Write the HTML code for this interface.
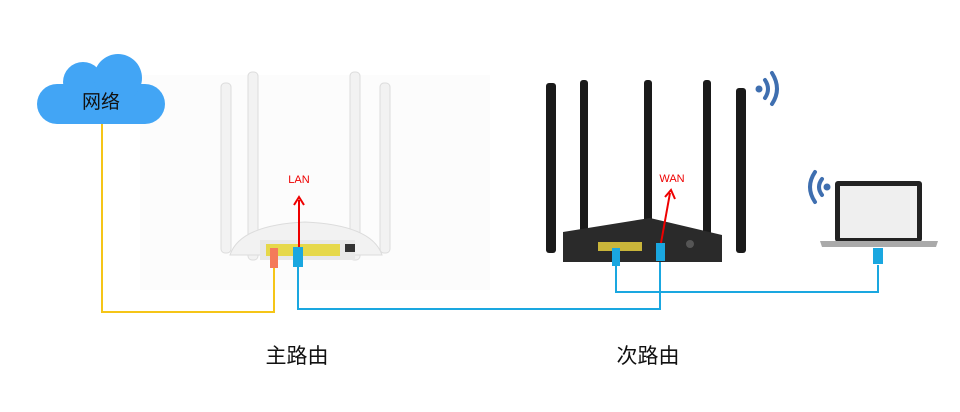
<!DOCTYPE html>
<html><head><meta charset="utf-8"><style>
html,body{margin:0;padding:0;background:#fff;}
svg{display:block;}
text{font-family:"Liberation Sans","Noto Sans CJK SC",sans-serif;}
</style></head><body>
<svg width="960" height="412" viewBox="0 0 960 412" xmlns="http://www.w3.org/2000/svg">
<rect x="140" y="75" width="350" height="215" fill="#fcfcfc"/>
<!-- cloud -->
<g fill="#42a5f5">
<rect x="37" y="84" width="128" height="40" rx="20"/>
<circle cx="83" cy="82" r="20"/>
<circle cx="118" cy="78" r="24"/>
</g>
<text x="101" y="108" font-size="19" text-anchor="middle" fill="#111">网络</text>
<!-- cables -->
<polyline points="102,124 102,312 274,312 274,262" fill="none" stroke="#f5c518" stroke-width="2"/>
<polyline points="298,262 298,309 660,309 660,258" fill="none" stroke="#1aa7e0" stroke-width="2"/>
<polyline points="616,262 616,292 878,292 878,265" fill="none" stroke="#1aa7e0" stroke-width="2"/>
<!-- white router -->
<g fill="#f2f2f2" stroke="#dcdcdc" stroke-width="1">
<rect x="221" y="83" width="10" height="170" rx="4"/>
<rect x="248" y="72" width="10" height="188" rx="4"/>
<rect x="350" y="72" width="10" height="188" rx="4"/>
<rect x="380" y="83" width="10" height="170" rx="4"/>
<path d="M230,255 Q240,225 305,222 Q372,225 382,255 Z"/>
</g>
<rect x="260" y="240" width="95" height="20" fill="#e8e8e8"/>
<rect x="266" y="244" width="74" height="12" fill="#e6d84a"/>
<rect x="345" y="244" width="10" height="8" fill="#333"/>
<rect x="270" y="248" width="8" height="20" fill="#f47a5a"/>
<rect x="293" y="247" width="10" height="20" fill="#1aa7e0"/>
<line x1="299" y1="247" x2="299" y2="200" stroke="#e00" stroke-width="2"/>
<polyline points="294,205 299,197 304,205" fill="none" stroke="#e00" stroke-width="2"/>
<text x="299" y="183" font-size="11" text-anchor="middle" fill="#e00">LAN</text>
<!-- black router -->
<g fill="#1a1a1a">
<rect x="546" y="83" width="10" height="170" rx="3"/>
<rect x="580" y="80" width="8" height="178" rx="3"/>
<rect x="644" y="80" width="8" height="178" rx="3"/>
<rect x="703" y="80" width="8" height="178" rx="3"/>
<rect x="736" y="88" width="10" height="165" rx="3"/>
<path d="M563,232 L650,218 L722,235 L722,262 L563,262 Z" fill="#2a2a2a"/>
</g>
<rect x="598" y="242" width="44" height="9" fill="#c9b53a"/>
<circle cx="690" cy="244" r="4" fill="#555"/>
<rect x="612" y="248" width="8" height="18" fill="#1aa7e0"/>
<rect x="656" y="243" width="9" height="18" fill="#1aa7e0"/>
<line x1="661" y1="243" x2="670" y2="193" stroke="#e00" stroke-width="2"/>
<polyline points="665,197 671,190 675,199" fill="none" stroke="#e00" stroke-width="2"/>
<text x="672" y="182" font-size="11" text-anchor="middle" fill="#e00">WAN</text>
<!-- wifi icons -->
<g fill="none" stroke="#3f6fb0" stroke-width="4" stroke-linecap="round">
<path d="M765,80 Q771,89 765,98"/>
<path d="M772,73 Q782,89 772,104"/>
<path d="M822,179 Q816,187 822,195"/>
<path d="M815,172 Q805,187 815,202"/>
</g>
<circle cx="759" cy="89" r="3.5" fill="#3f6fb0"/>
<circle cx="827" cy="187" r="3.5" fill="#3f6fb0"/>
<!-- laptop -->
<rect x="835" y="181" width="87" height="61" rx="3" fill="#222"/>
<rect x="840" y="186" width="77" height="52" fill="#efefef"/>
<path d="M820,241 L938,241 L936,247 L822,247 Z" fill="#aaa"/>
<rect x="873" y="248" width="10" height="16" fill="#1aa7e0"/>
<!-- labels -->
<text x="297" y="363" font-size="21" text-anchor="middle" fill="#111">主路由</text>
<text x="648" y="363" font-size="21" text-anchor="middle" fill="#111">次路由</text>
</svg>
</body></html>
